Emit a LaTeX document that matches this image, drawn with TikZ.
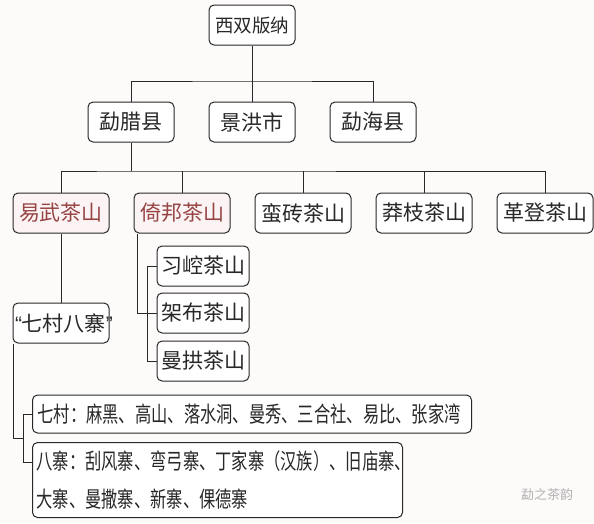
\documentclass[tikz,border=0pt]{standalone}
\usepackage{fontspec}
\setmainfont{Noto Sans CJK SC}
\newfontfamily\narrowcjk[FakeStretch=0.74]{Noto Sans CJK SC}
\newfontfamily\quotefont{Liberation Sans}
\usetikzlibrary{calc}
\definecolor{pagebg}{RGB}{253,250,250}
\definecolor{inkgray}{RGB}{40,40,40}
\definecolor{teared}{RGB}{150,68,68}
\definecolor{pinkfill}{RGB}{252,244,244}
\tikzset{
  box/.style={draw=inkgray, rounded corners=5pt, line width=1pt, fill=white,
    inner sep=2pt, minimum height=40pt, text=inkgray, font=\fontsize{21}{24}\selectfont},
  redbox/.style={box, fill=pinkfill, text=teared},
  wire/.style={draw=inkgray, line width=1pt}
}

\begin{document}
\begin{tikzpicture}[x=1pt, y=-1pt]
		%%%%% START %%%%%
		\fill[pagebg] (0,0) rectangle (594,523);
		\useasboundingbox (0,0) rectangle (594,523);
		
		% top and counties
		\node[box, minimum width=86pt, font=\fontsize{18.5}{22}\selectfont] (xsbn) at (252,25) {西双版纳};
		\node[box, minimum width=86pt] (mengla) at (131,122) {勐腊县};
		\node[box, minimum width=86pt] (jinghong) at (252,122) {景洪市};
		\node[box, minimum width=86pt] (menghai) at (373,122) {勐海县};
		\coordinate (bus1) at (252,81);
		\draw[wire] (xsbn) -- (jinghong);
		\draw[wire] (mengla.north) |- (bus1) -| (menghai.north);
		
		% six tea mountains
		\node[redbox, minimum width=96pt] (yiwu) at (61,213) {易武茶山};
		\node[redbox, minimum width=96pt] (yibang) at (182,213) {倚邦茶山};
		\node[box, minimum width=96pt] (manzhuan) at (303,213) {蛮砖茶山};
		\node[box, minimum width=96pt] (mangzhi) at (424,213) {莽枝茶山};
		\node[box, minimum width=96pt] (gedeng) at (545,213) {革登茶山};
		\coordinate (bus2) at (131,171);
		\draw[wire] (mengla.south) -- (bus2);
		\draw[wire] (yiwu.north) |- (bus2) -| (gedeng.north);
		\draw[wire] (yibang.north) -- (yibang.north |- bus2);
		\draw[wire] (manzhuan.north) -- (manzhuan.north |- bus2);
		\draw[wire] (mangzhi.north) -- (mangzhi.north |- bus2);
		
		% under yibang
		\node[box, minimum width=92pt] (xikong) at (203,266) {习崆茶山};
		\node[box, minimum width=92pt] (jiabu) at (203,313) {架布茶山};
		\node[box, minimum width=92pt] (mangong) at (203,361) {曼拱茶山};
		\draw[wire] ($(yibang.south west)+(4,0)$) |- (jiabu.west);
		\draw[wire] (xikong.west) -- ++(-9,0) |- (mangong.west);
		
		% under yiwu
		\node[box, minimum width=96pt, text width=92pt, align=center] (qcbz) at (61,323)
		  {{\quotefont “}七村八寨{\quotefont ”}};
		\draw[wire] (yiwu) -- (qcbz);
		\node[box, anchor=west, text width=429pt, inner xsep=5pt, minimum height=38pt,
		  align=left, font=\narrowcjk\fontsize{22}{24}\selectfont] (qicun) at (32,414)
		  {七村：麻黑、高山、落水洞、曼秀、三合社、易比、张家湾};
		\node[box, anchor=north west, text width=362pt, inner xsep=4pt, minimum height=75pt,
		  align=left, font=\narrowcjk\fontsize{22}{38}\selectfont] (bazhai) at (32,442)
		  {八寨：刮风寨、弯弓寨、丁家寨（汉族）、旧庙寨、\\大寨、曼撒寨、新寨、倮德寨};
		\coordinate (bj) at (23,438);
		\draw[wire] (qicun.west) -- ++(-9,0) |- ($(bazhai.north west)+(0,20)$);
		\draw[wire] ($(qcbz.south west)+(1,0)$) |- (bj);
		
		% watermark
		\node[text=black!30, font=\fontsize{13}{15}\selectfont] (mark) at (547,495) {勐之茶韵};
		%%%%% END %%%%%
\end{tikzpicture}
\end{document}
